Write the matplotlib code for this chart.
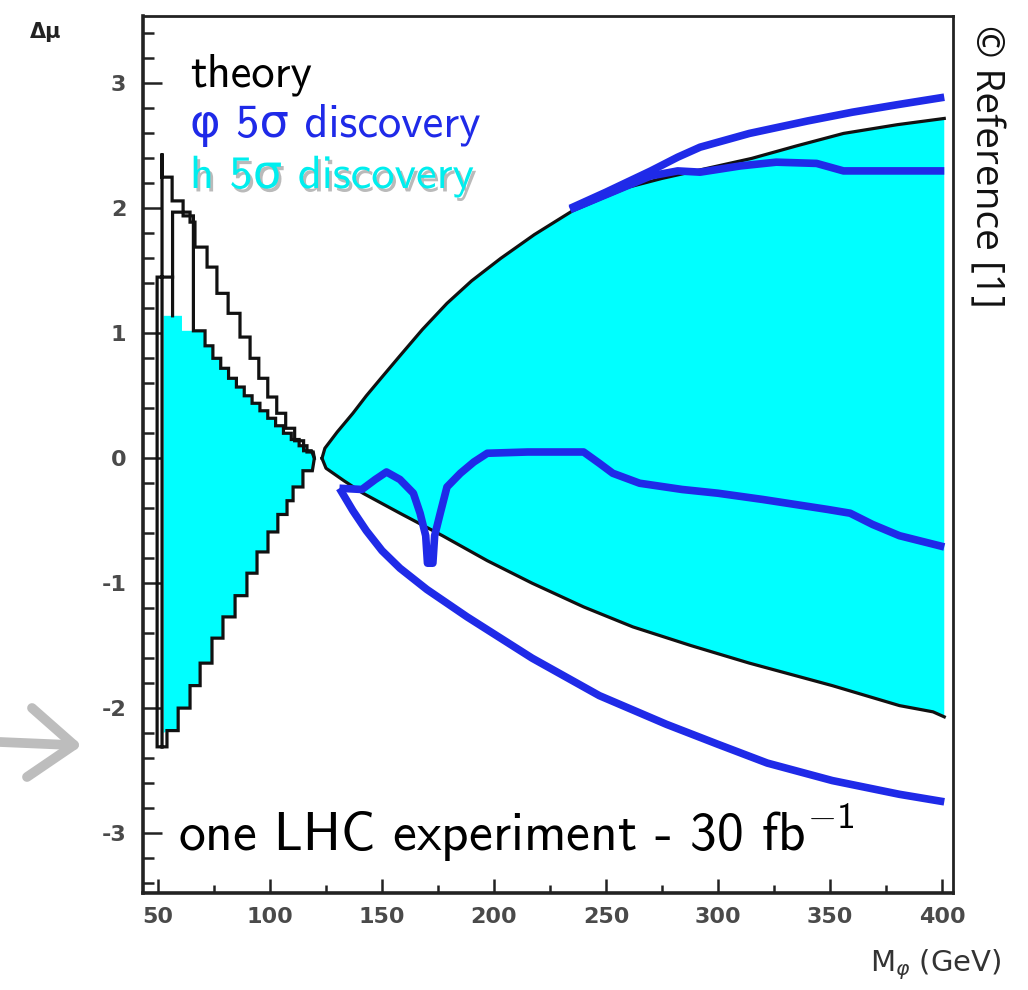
import matplotlib
matplotlib.use("Agg")
import numpy as np
import matplotlib.pyplot as plt
import matplotlib.patheffects as pe
from matplotlib.lines import Line2D
from matplotlib.ticker import MultipleLocator

plt.rcParams["axes.unicode_minus"] = False
plt.rcParams["mathtext.fontset"] = "custom"
plt.rcParams["mathtext.rm"] = "cmss10"
plt.rcParams["mathtext.sf"] = "cmss10"
plt.rcParams["mathtext.it"] = "cmss10"
plt.rcParams["mathtext.bf"] = "cmss10"

# ---------------- data ----------------
# low-mass theory contour: outer staircase (bin edges in GeV, level per bin)
outer_edges = [51.8, 56.3, 61.2, 64.3, 66.5, 71.9, 76.3, 81.3, 86.6, 91.1,
               95.0, 99.0, 103.0, 107.0, 111.0, 115.0, 118.5]
outer_levels = [2.25, 2.06, 1.97, 1.89, 1.69, 1.53, 1.32, 1.16, 0.97, 0.80,
                0.64, 0.49, 0.36, 0.24, 0.14, 0.06]
outer_peak = 2.44

# low-mass inner staircase (edge of the h discovery region)
inner_edges = [65.8, 71.0, 74.5, 78.0, 81.5, 85.0, 88.5, 92.0, 95.5, 99.0,
               102.5, 106.0, 109.5, 113.0, 116.5, 119.3]
inner_levels = [1.02, 0.90, 0.80, 0.72, 0.64, 0.57, 0.50, 0.44, 0.38, 0.32,
                0.26, 0.20, 0.15, 0.10, 0.05]

# low-mass lower staircase
lower_edges = [54.0, 59.0, 64.3, 68.8, 74.1, 79.0, 84.4, 89.7, 94.2, 99.1,
               103.5, 107.6, 110.3, 114.7, 118.9]
lower_levels = [-2.18, -2.00, -1.82, -1.64, -1.44, -1.27, -1.10, -0.92, -0.75,
                -0.59, -0.45, -0.34, -0.23, -0.10]

cusp_left = (119.8, 0.0)

# high-mass theory boundaries
theory_up_x = [123.2, 124.5, 130, 137, 143, 150, 158, 168, 179, 190, 203, 218,
               235, 248, 260, 275, 290, 315, 335, 356, 380, 401]
theory_up_y = [0.0, 0.08, 0.21, 0.36, 0.50, 0.65, 0.82, 1.03, 1.24, 1.42, 1.60,
               1.79, 1.98, 2.08, 2.17, 2.24, 2.30, 2.40, 2.50, 2.60, 2.67, 2.72]
theory_lo_x = [123.2, 125, 133, 141.5, 158, 177, 197, 217, 240, 262, 288, 314,
               351, 381, 396, 401]
theory_lo_y = [0.0, -0.08, -0.18, -0.28, -0.44, -0.62, -0.82, -1.00, -1.19, -1.35,
               -1.50, -1.64, -1.82, -1.98, -2.03, -2.07]

# phi 5 sigma discovery contours
phi_top_x = [234, 250, 270, 282, 292, 314, 340, 360, 380, 401]
phi_top_y = [2.00, 2.13, 2.30, 2.41, 2.49, 2.60, 2.70, 2.77, 2.83, 2.89]
phi_top2_x = [234, 250, 270, 282, 292, 310, 326, 344, 356, 401]
phi_top2_y = [1.99, 2.11, 2.26, 2.30, 2.29, 2.34, 2.37, 2.36, 2.30, 2.30]
phi_mid_x = [131, 141, 147, 152, 158, 164, 167, 169.5, 170.3, 172.7, 173.5, 176,
             179, 185, 191, 197, 215, 240, 247, 253, 265, 284, 300, 320, 349,
             359, 369, 381, 401]
phi_mid_y = [-0.24, -0.25, -0.17, -0.11, -0.17, -0.28, -0.44, -0.62, -0.84, -0.84,
             -0.62, -0.44, -0.23, -0.12, -0.03, 0.04, 0.05, 0.05, -0.04, -0.12,
             -0.20, -0.25, -0.28, -0.33, -0.41, -0.44, -0.53, -0.62, -0.71]
phi_low_x = [131, 137, 143, 150, 158, 170, 188, 217, 247, 277, 300, 322, 351, 381, 401]
phi_low_y = [-0.24, -0.42, -0.58, -0.74, -0.88, -1.05, -1.27, -1.60, -1.90, -2.13,
             -2.29, -2.44, -2.58, -2.69, -2.75]

x_ticks = [50, 100, 150, 200, 250, 300, 350, 400]
y_ticks = [-3, -2, -1, 0, 1, 2, 3]

legend_labels = ["theory", "\u03c6 5\u03c3 discovery", "h 5\u03c3 discovery"]
note_text = r"one LHC experiment - 30 fb$^{-1}$"

CYAN = "#00ffff"
BLUE = "#1f2ae8"
INK = "#111111"


def stairs_xy(edges, levels):
    xs, ys = [], []
    for i, lv in enumerate(levels):
        xs += [edges[i], edges[i + 1]]
        ys += [lv, lv]
    return xs, ys


W, H = 1028, 990
fig = plt.figure(figsize=(W / 100, H / 100), dpi=100)
ax = fig.add_axes([143 / W, 1 - 893 / H, 810 / W, 877 / H])
ax.set_xlim(43.3, 404.9)
ax.set_ylim(-3.48, 3.54)

# ---- low-mass region ----
ox, oy = stairs_xy(outer_edges, outer_levels)
ix, iy = stairs_xy(inner_edges, inner_levels)
lx, ly = stairs_xy(lower_edges, lower_levels)

cyan_left_x = [52.5, 52.5, 60.7, 60.7] + ix + [cusp_left[0]] + lx[::-1] + [52.5]
cyan_left_y = [-2.2, 1.14, 1.14, 1.02] + iy + [cusp_left[1]] + ly[::-1] + [-2.2]
ax.fill(cyan_left_x, cyan_left_y, color=CYAN, lw=0, zorder=1)

outer_x = [51.8, 51.8, 51.8] + ox + [cusp_left[0]] + lx[::-1] + [54.0, 49.6, 49.6, 56.5]
outer_y = [-2.31, outer_peak, outer_levels[0]] + oy + [cusp_left[1]] + ly[::-1] + [-2.31, -2.31, 1.45, 1.45]
ax.plot(outer_x, outer_y, color=INK, lw=2.3, zorder=3, solid_joinstyle="miter")

inner_x = [56.5, 56.5, 61.2, 61.2, 65.8] + ix + [cusp_left[0]]
inner_y = [1.14, 1.97, 1.97, 1.94, 1.94] + iy + [cusp_left[1]]
ax.plot(inner_x, inner_y, color=INK, lw=2.3, zorder=3, solid_joinstyle="miter")

# ---- high-mass region ----
cyan_right_x = theory_up_x + theory_lo_x[::-1]
cyan_right_y = theory_up_y + theory_lo_y[::-1]
ax.fill(cyan_right_x, cyan_right_y, color=CYAN, lw=0, zorder=1)
ax.plot(theory_up_x, theory_up_y, color=INK, lw=2.3, zorder=3)
ax.plot(theory_lo_x, theory_lo_y, color=INK, lw=2.3, zorder=3)

for bx, by in [(phi_top_x, phi_top_y), (phi_top2_x, phi_top2_y),
               (phi_mid_x, phi_mid_y), (phi_low_x, phi_low_y)]:
    ax.plot(bx, by, color=BLUE, lw=5.5, zorder=4, solid_joinstyle="round",
            solid_capstyle="butt")

# ---- axes styling ----
for side in ["left", "bottom"]:
    ax.spines[side].set_linewidth(2.6)
for side in ["top", "right"]:
    ax.spines[side].set_linewidth(2.0)
for s in ax.spines.values():
    s.set_color("#222222")

ax.set_xticks(x_ticks)
ax.set_yticks(y_ticks)
ax.xaxis.set_minor_locator(MultipleLocator(25))
ax.yaxis.set_minor_locator(MultipleLocator(0.2))
ax.tick_params(axis="both", which="both", direction="in", top=False, right=False,
               color="#222222", width=1.8, labelcolor="#4a4a4a", labelsize=16)
ax.tick_params(axis="y", which="major", length=14, pad=12)
ax.tick_params(axis="y", which="minor", length=8)
ax.tick_params(axis="x", which="major", length=10, pad=10)
ax.tick_params(axis="x", which="minor", length=6)
for lab in ax.get_xticklabels() + ax.get_yticklabels():
    lab.set_fontweight("bold")

# ---- texts ----
def fx(px):
    return px / W


def fy(py):
    return 1 - py / H


fam = ["cmss10", "DejaVu Sans"]
fig.text(fx(190), fy(87), legend_labels[0], color="black", fontsize=33.5,
         family=fam, va="baseline")
fig.text(fx(190), fy(137), legend_labels[1], color=BLUE, fontsize=33.5,
         family=fam, va="baseline")
fig.text(fx(190), fy(188), legend_labels[2], color="#00eeee", fontsize=33.5,
         family=fam, va="baseline",
         path_effects=[pe.SimplePatchShadow(offset=(2, -2.5), shadow_rgbFace="#666666",
                                            alpha=0.45), pe.Normal()])

fig.text(fx(178), fy(851), note_text, color="black", fontsize=38.5, family=fam,
         va="baseline")

fig.text(fx(986), fy(25), "\u00a9 Reference [1]", rotation=270, fontsize=28,
         family=["Open Sans", "DejaVu Sans"], ha="center", va="top", color="#111111")

fig.text(fx(46), fy(32), "\u0394\u03bc", fontsize=15, color="#222222",
         fontweight="bold", ha="center", va="center")
fig.text(fx(1002), fy(965), r"M$_\varphi$ (GeV)", fontsize=21, color="#333333",
         family=["DejaVu Sans"], ha="right", va="center",
         math_fontfamily="dejavusans")

# hand-drawn style pointer on the left
arrow_color = "#bdbdbd"
for (x0, y0), (x1, y1) in [((0, 742), (70, 745)), ((32, 708), (74, 745)),
                           ((27, 777), (74, 745))]:
    fig.add_artist(Line2D([fx(x0), fx(x1)], [fy(y0), fy(y1)], color=arrow_color,
                          lw=7, solid_capstyle="round", transform=fig.transFigure))

fig.savefig("out.png", dpi=100)
